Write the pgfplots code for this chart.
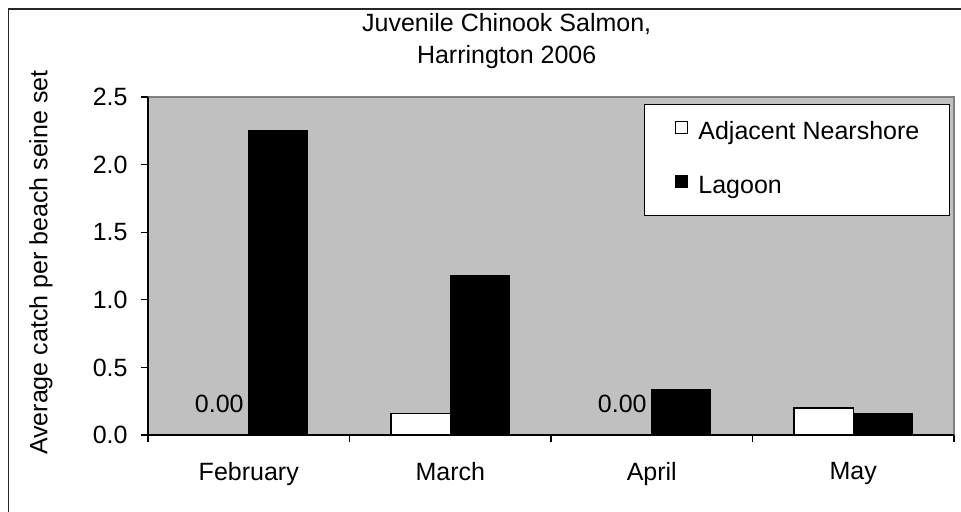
\documentclass[border=0pt]{standalone}
\usepackage{pgfplots}
\pgfplotsset{compat=1.18}
\usepackage{fontspec}
\setmainfont{Liberation Sans}
\definecolor{plotgray}{HTML}{C0C0C0}
\definecolor{edgegray}{HTML}{808080}
\begin{document}
\fontsize{12.5}{15}\selectfont
\begin{tikzpicture}
\useasboundingbox (0,0) rectangle (480.5pt,256pt);
\draw[line width=0.9pt, black!85] (4.25pt,-1pt) -- (4.25pt,251.5pt) -- (482pt,251.5pt);
\begin{axis}[
  at={(74pt,38.5pt)}, anchor=south west,
  scale only axis, width=403pt, height=169pt,
  xmin=-0.5, xmax=3.5, ymin=0, ymax=2.5,
  axis background/.style={fill=plotgray, draw=edgegray, line width=0.9pt},
  axis x line*=bottom, axis y line*=left,
  axis line style={black, line width=0.7pt},
  ybar, bar width=0.293,
  xtick={0,1,2,3},
  xticklabels={February,March,April,May},
  major x tick style={draw=none},
  minor xtick={-0.5,0.5,1.5,2.5,3.5},
  ytick={0,0.5,...,2.5},
  tick align=outside,
  major tick length=3.5pt, minor tick length=3.5pt,
  tick style={black, line width=0.6pt},
  /pgf/number format/assume math mode=true,
  yticklabel style={/pgf/number format/fixed, /pgf/number format/fixed zerofill, /pgf/number format/precision=1},
  yticklabel style={inner sep=0pt, xshift=-6.5pt},
  xticklabel style={inner sep=0pt, yshift=-10pt},
  ticklabel style={font=\fontsize{12.5}{15}\selectfont},
  title={Juvenile Chinook Salmon,\\Harrington 2006},
  title style={at={(0.445,1)}, anchor=south, align=center, inner sep=0pt, yshift=8pt, font=\fontsize{12.5}{16}\selectfont},
  ylabel={Average catch per beach seine set},
  ylabel style={at={(axis description cs:-0.1328,0.51)}, anchor=center, inner sep=0pt, font=\fontsize{12.5}{15}\selectfont},
  legend style={at={(0.995,0.979)}, anchor=north east, draw=black, fill=white, line width=0.6pt,
    inner xsep=15pt, inner ysep=8pt, row sep=15pt,
    nodes={inner sep=0pt, text height=9pt, text depth=3pt, font=\fontsize{12.5}{15}\selectfont}},
  legend cell align=left,
  legend image code/.code={\draw[#1, line width=0.6pt] (0pt,0pt) rectangle (6pt,6pt);
    \path[draw=none, fill=none] (0pt,0pt) rectangle (11.5pt,0.1pt);},
]
\addplot[fill=white, draw=black, line width=0.75pt, bar shift=-0.1465] coordinates {(1,0.16) (3,0.20)};
\addlegendentry{Adjacent Nearshore}
\addplot[fill=black, draw=black, line width=0.5pt, bar shift=0.1465] coordinates {(0,2.25) (1,1.18) (2,0.34) (3,0.16)};
\addlegendentry{Lagoon}
\addplot[draw=none, fill=none, bar shift=-0.1465, forget plot,
  nodes near coords={0.00},
  nodes near coords style={inner sep=0pt, yshift=11pt, anchor=base, font=\fontsize{12.5}{15}\selectfont}]
  coordinates {(0,0) (2,0)};
\end{axis}
\end{tikzpicture}
\end{document}
